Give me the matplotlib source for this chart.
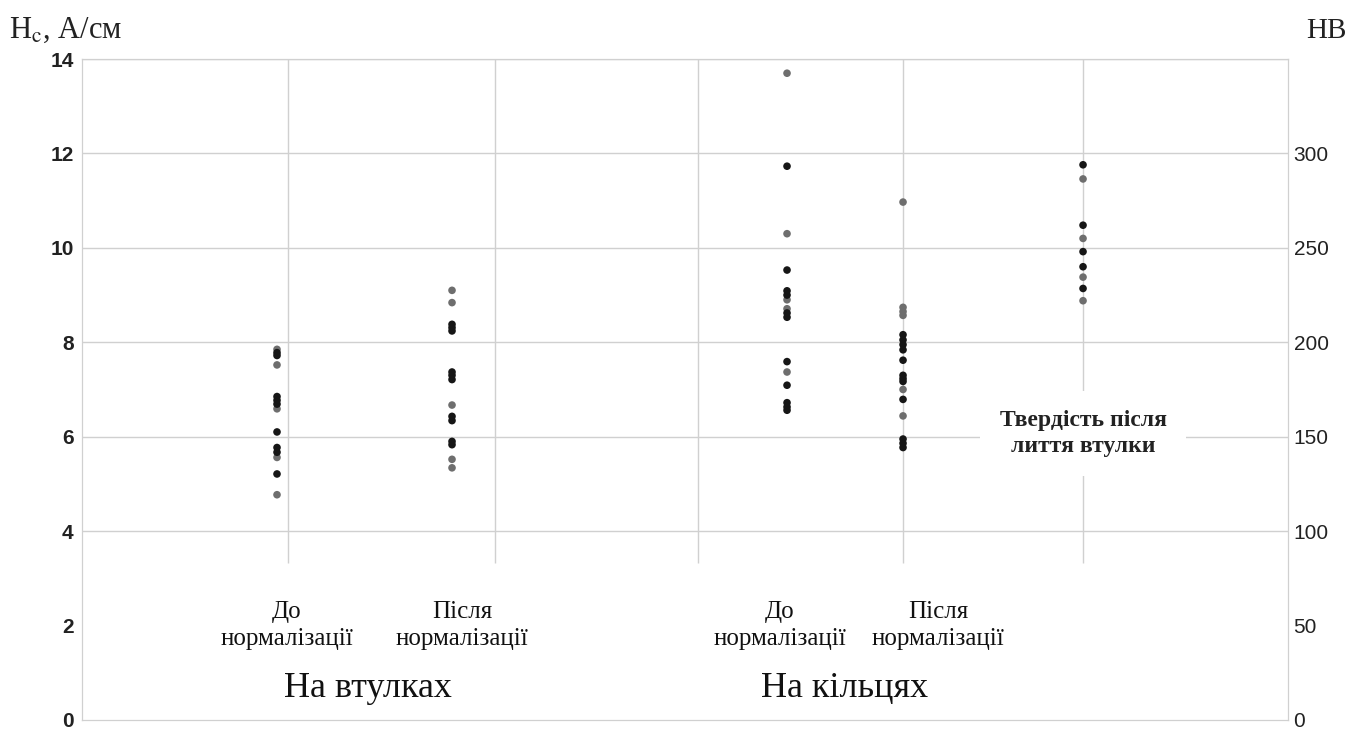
import matplotlib
matplotlib.use("Agg")
import matplotlib.pyplot as plt

# coercive force Hc, A/cm (left axis); split into dark and light markers
hc_dark = [
    [7.78, 7.72, 6.85, 6.77, 6.69, 6.10, 5.77, 5.67, 5.21],
    [8.38, 8.31, 8.24, 7.37, 7.30, 7.21, 6.43, 6.34, 5.90, 5.83],
    [11.73, 9.53, 9.09, 9.00, 8.62, 8.53, 7.59, 7.09, 6.72, 6.63, 6.56],
    [8.16, 8.05, 7.95, 7.84, 7.62, 7.30, 7.23, 7.17, 6.79, 5.95, 5.86, 5.77],
]
hc_light = [
    [7.85, 7.52, 6.59, 5.56, 4.77],
    [9.10, 8.84, 6.67, 5.52, 5.34],
    [13.70, 10.30, 8.90, 8.71, 7.37],
    [10.97, 8.74, 8.65, 8.57, 7.00, 6.44],
]
# hardness HB after casting the sleeve (right axis)
hb_dark = [294, 262, 248, 240, 228.5]
hb_light = [286.5, 255, 234.5, 222]

cat_labels = ["До\nнормалізації", "Після\nнормалізації",
              "До\nнормалізації", "Після\nнормалізації"]
group_labels = ["На втулках", "На кільцях"]
hb_label = "Твердість після\nлиття втулки"

left_ticks = [0, 2, 4, 6, 8, 10, 12, 14]
right_ticks = [0, 50, 100, 150, 200, 250, 300]

# layout
col_x = [1.95, 3.70, 7.05, 8.21]
hb_x = 10.01
grid_x = [2.06, 4.13, 6.16, 8.21, 10.01]
label_x = [2.05, 3.80, 6.98, 8.56]
group_x = [2.86, 7.63]
grid_col = "#d0d0d0"
dark = "#161616"
light = "#6e6e6e"

serif = ["Liberation Serif", "DejaVu Serif"]
plt.rcParams["font.family"] = ["Liberation Sans", "DejaVu Sans"]
plt.rcParams["mathtext.fontset"] = "stix"

fig = plt.figure(figsize=(13.51, 7.29), dpi=100)
ax = fig.add_axes([0.0607, 0.0125, 0.8927, 0.9065])
ax.set_xlim(0, 12.06)
ax.set_ylim(0, 14)

for y in [4, 6, 8, 10, 12, 14]:
    ax.axhline(y, color=grid_col, lw=1.0, zorder=0)
for x in grid_x:
    ax.vlines(x, 3.33, 14, color=grid_col, lw=1.0, zorder=0)

for i in range(len(col_x)):
    ax.scatter([col_x[i]] * len(hc_light[i]), hc_light[i], s=30, color=light,
               edgecolors="none", zorder=3)
    ax.scatter([col_x[i]] * len(hc_dark[i]), hc_dark[i], s=30, color=dark,
               edgecolors="none", zorder=3)

for sp in ax.spines.values():
    sp.set_color(grid_col)
ax.set_xticks([])
ax.set_yticks(left_ticks)
ax.tick_params(axis="y", length=0, pad=6, labelsize=15, labelcolor="#222222")
for t in ax.get_yticklabels():
    t.set_fontweight("bold")

ax2 = ax.twinx()
ax2.set_ylim(0, 350)
ax2.set_yticks(right_ticks)
ax2.tick_params(axis="y", length=0, pad=4, labelsize=15, labelcolor="#222222")
for sp in ax2.spines.values():
    sp.set_color(grid_col)
ax2.scatter([hb_x] * len(hb_light), hb_light, s=30, color=light,
            edgecolors="none", zorder=3)
ax2.scatter([hb_x] * len(hb_dark), hb_dark, s=30, color=dark,
            edgecolors="none", zorder=3)

for x, lab in zip(label_x, cat_labels):
    ax.text(x, 2.0, lab, ha="center", va="center", fontsize=18,
            family=serif, color="#111111", linespacing=1.3)
for x, lab in zip(group_x, group_labels):
    ax.text(x, 0.66, lab, ha="center", va="center", fontsize=26,
            family=serif, color="#111111")

ax.text(hb_x, 6.07, hb_label, ha="center", va="center", fontsize=17,
        family=serif, fontweight="bold", color="#222222", linespacing=1.3,
        bbox=dict(facecolor="white", edgecolor="none", pad=14), zorder=4)

fig.text(0.007, 0.958, r"H$_\mathrm{c}$, А/см", ha="left", va="center",
         fontsize=22, family=serif, color="#222222")
fig.text(0.997, 0.958, "HB", ha="right", va="center",
         fontsize=21, family=serif, color="#222222")

fig.savefig("out.png", dpi=100)
